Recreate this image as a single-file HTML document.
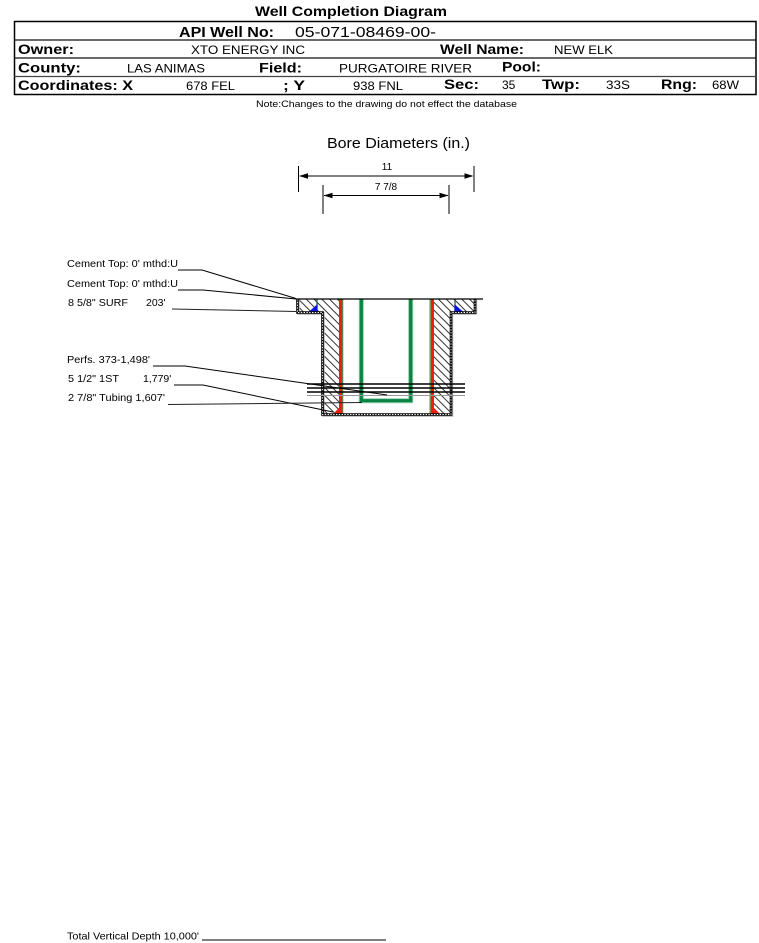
<!DOCTYPE html>
<html>
<head>
<meta charset="utf-8">
<style>
  html, body { margin: 0; padding: 0; background: #ffffff; }
  svg { display: block; }
  text { font-family: "Liberation Sans", Arial, sans-serif; fill: #000; }
  .b { font-weight: bold; font-size: 14px; }
  .v { font-size: 12px; }
  .lbl { font-size: 10.5px; }
</style>
</head>
<body>
<svg width="759" height="943" viewBox="0 0 759 943" xmlns="http://www.w3.org/2000/svg">
  <defs>
    <pattern id="hatch" patternUnits="userSpaceOnUse" width="5.5" height="5.5" patternTransform="rotate(45)">
      <line x1="0" y1="0.5" x2="5.5" y2="0.5" stroke="#000" stroke-width="0.8"/>
    </pattern>
  </defs>

  <!-- Title -->
  <text x="255" y="16" class="b" textLength="192" lengthAdjust="spacingAndGlyphs">Well Completion Diagram</text>

  <!-- Header table -->
  <rect x="14.5" y="21.5" width="741.5" height="73" fill="none" stroke="#000" stroke-width="1.5"/>
  <line x1="14.5" y1="40" x2="756" y2="40" stroke="#111" stroke-width="1.2"/>
  <line x1="14.5" y1="58" x2="756" y2="58" stroke="#111" stroke-width="1.2"/>
  <line x1="14.5" y1="76.5" x2="756" y2="76.5" stroke="#444" stroke-width="1.2"/>

  <text x="179" y="37" class="b" textLength="95" lengthAdjust="spacingAndGlyphs" style="font-size:14.5px">API Well No:</text>
  <text x="295" y="37" textLength="141" lengthAdjust="spacingAndGlyphs" style="font-size:14.5px">05-071-08469-00-</text>

  <text x="18" y="54" class="b" textLength="56" lengthAdjust="spacingAndGlyphs">Owner:</text>
  <text x="191" y="54" class="v" textLength="114" lengthAdjust="spacingAndGlyphs">XTO ENERGY INC</text>
  <text x="440" y="54" class="b" textLength="84" lengthAdjust="spacingAndGlyphs">Well Name:</text>
  <text x="554" y="54" class="v" textLength="59" lengthAdjust="spacingAndGlyphs">NEW ELK</text>

  <text x="18" y="72.5" class="b" textLength="63" lengthAdjust="spacingAndGlyphs">County:</text>
  <text x="127" y="72.5" class="v" textLength="78" lengthAdjust="spacingAndGlyphs">LAS ANIMAS</text>
  <text x="259" y="72.5" class="b" textLength="43" lengthAdjust="spacingAndGlyphs">Field:</text>
  <text x="339" y="72.5" class="v" textLength="133" lengthAdjust="spacingAndGlyphs">PURGATOIRE RIVER</text>
  <text x="502" y="71.5" class="b" textLength="39" lengthAdjust="spacingAndGlyphs">Pool:</text>

  <text x="18" y="90" class="b" textLength="115" lengthAdjust="spacingAndGlyphs">Coordinates: X</text>
  <text x="186" y="90" class="v" textLength="49" lengthAdjust="spacingAndGlyphs">678 FEL</text>
  <text x="283" y="90" class="b" textLength="22" lengthAdjust="spacingAndGlyphs">; Y</text>
  <text x="353" y="90" class="v" textLength="50" lengthAdjust="spacingAndGlyphs">938 FNL</text>
  <text x="444" y="89" class="b" textLength="35" lengthAdjust="spacingAndGlyphs">Sec:</text>
  <text x="502" y="89" class="v">35</text>
  <text x="542" y="89" class="b" textLength="38" lengthAdjust="spacingAndGlyphs">Twp:</text>
  <text x="606" y="89" class="v" textLength="24" lengthAdjust="spacingAndGlyphs">33S</text>
  <text x="661" y="89" class="b" textLength="36" lengthAdjust="spacingAndGlyphs">Rng:</text>
  <text x="712" y="89" class="v" textLength="27" lengthAdjust="spacingAndGlyphs">68W</text>

  <!-- Note -->
  <text x="256" y="107" style="font-size:9.5px" textLength="261" lengthAdjust="spacingAndGlyphs">Note:Changes to the drawing do not effect the database</text>

  <!-- Bore diameters -->
  <text x="327" y="148" style="font-size:15px" textLength="143" lengthAdjust="spacingAndGlyphs">Bore Diameters (in.)</text>
  <text x="387" y="170" style="font-size:10px" text-anchor="middle">11</text>
  <line x1="298.5" y1="166" x2="298.5" y2="192" stroke="#000" stroke-width="1"/>
  <line x1="474" y1="166" x2="474" y2="192" stroke="#000" stroke-width="1"/>
  <line x1="300" y1="176" x2="472" y2="176" stroke="#000" stroke-width="1"/>
  <polygon points="299,176 308,173.3 308,178.7" fill="#000"/>
  <polygon points="473.5,176 464.5,173.3 464.5,178.7" fill="#000"/>

  <text x="386" y="190" style="font-size:10px" text-anchor="middle">7 7/8</text>
  <line x1="323" y1="185" x2="323" y2="214" stroke="#000" stroke-width="1"/>
  <line x1="449" y1="185" x2="449" y2="214" stroke="#000" stroke-width="1"/>
  <line x1="324" y1="195.5" x2="448" y2="195.5" stroke="#000" stroke-width="1"/>
  <polygon points="323.5,195.5 332.5,192.8 332.5,198.2" fill="#000"/>
  <polygon points="448.5,195.5 439.5,192.8 439.5,198.2" fill="#000"/>

  <!-- Cement hatch -->
  <polygon points="297,299 339,299 339,414 322,414 322,312 297,312" fill="url(#hatch)"/>
  <polygon points="434,299 475,299 475,312 451,312 451,414 434,414" fill="url(#hatch)"/>

  <!-- Surface casing -->
  <line x1="317" y1="299" x2="317" y2="312" stroke="#1a5a3a" stroke-width="1.2"/>
  <line x1="455" y1="299" x2="455" y2="312" stroke="#1a5a3a" stroke-width="1.2"/>
  <polygon points="317.6,304 317.6,312 308.5,312" fill="#0a14e0"/>
  <polygon points="454.4,304 454.4,312 463.5,312" fill="#0a14e0"/>

  <!-- Production casing (red) -->
  <rect x="342" y="299" width="1.3" height="115" fill="#3aa05a"/>
  <rect x="339" y="299" width="3.2" height="115" fill="#ee1e0a"/>
  <polygon points="342.3,404.5 342.3,414 333,414" fill="#ee1e0a"/>
  <rect x="429.5" y="299" width="1.3" height="115" fill="#3aa05a"/>
  <rect x="430.8" y="299" width="3.2" height="115" fill="#ee1e0a"/>
  <polygon points="430.8,404.5 430.8,414 440,414" fill="#ee1e0a"/>

  <!-- Tubing -->
  <path d="M361.3,299 L361.3,400.7 L410.7,400.7 L410.7,299" fill="none" stroke="#8fd0a8" stroke-width="5"/>
  <path d="M361.3,299 L361.3,400.7 L410.7,400.7 L410.7,299" fill="none" stroke="#0a8445" stroke-width="3.2"/>

  <!-- Bore outline -->
  <path d="M297.5,299 L297.5,312.5 L322.5,312.5 L322.5,414.5 L451,414.5 L451,312.5 L475,312.5 L475,299" fill="none" stroke="#b0b0b0" stroke-width="2.6" transform="translate(0.9,0.9)"/>
  <path d="M297.5,299 L297.5,312.5 L322.5,312.5 L322.5,414.5 L451,414.5 L451,312.5 L475,312.5 L475,299" fill="none" stroke="#000" stroke-width="2.6"/>
  <path d="M297.5,299 L297.5,312.5 L322.5,312.5 L322.5,414.5 L451,414.5 L451,312.5 L475,312.5 L475,299" fill="none" stroke="#fff" stroke-width="0.9" stroke-dasharray="1.4 1.4"/>

  <!-- Ground line -->
  <line x1="296" y1="299" x2="483" y2="299" stroke="#000" stroke-width="1.2"/>

  <!-- Perforations -->
  <line x1="307" y1="384" x2="465" y2="384" stroke="#000" stroke-width="1.5"/>
  <line x1="307" y1="388" x2="465" y2="388" stroke="#000" stroke-width="1.5"/>
  <line x1="307" y1="392" x2="465" y2="392" stroke="#000" stroke-width="1.5"/>
  <line x1="307" y1="395.5" x2="465" y2="395.5" stroke="#999" stroke-width="1"/>

  <!-- Left labels -->
  <text x="67" y="267" class="lbl" textLength="111" lengthAdjust="spacingAndGlyphs">Cement Top: 0' mthd:U</text>
  <text x="67" y="287" class="lbl" textLength="111" lengthAdjust="spacingAndGlyphs">Cement Top: 0' mthd:U</text>
  <text x="68" y="306" class="lbl" textLength="60" lengthAdjust="spacingAndGlyphs">8 5/8" SURF</text>
  <text x="146" y="306" class="lbl">203'</text>
  <text x="67" y="363" class="lbl" textLength="83" lengthAdjust="spacingAndGlyphs">Perfs. 373-1,498'</text>
  <text x="68" y="382" class="lbl" textLength="51" lengthAdjust="spacingAndGlyphs">5 1/2" 1ST</text>
  <text x="143" y="382" class="lbl">1,779'</text>
  <text x="68" y="401" class="lbl" textLength="97" lengthAdjust="spacingAndGlyphs">2 7/8" Tubing 1,607'</text>

  <!-- Leader lines -->
  <polyline points="178,270 202,270 296,298.5" fill="none" stroke="#000" stroke-width="1"/>
  <polyline points="178,290 203,290 296,299" fill="none" stroke="#000" stroke-width="1"/>
  <polyline points="172,309 296,311.5" fill="none" stroke="#222" stroke-width="1"/>
  <polyline points="153,366 185,366 387,395" fill="none" stroke="#000" stroke-width="1"/>
  <polyline points="174,385 203,385 333,412" fill="none" stroke="#000" stroke-width="1"/>
  <polyline points="168,404.5 362,402.5" fill="none" stroke="#222" stroke-width="1"/>

  <!-- Total depth -->
  <text x="67" y="939.5" class="lbl" textLength="132" lengthAdjust="spacingAndGlyphs">Total Vertical Depth 10,000'</text>
  <line x1="202" y1="940" x2="386" y2="940" stroke="#000" stroke-width="1"/>
</svg>
</body>
</html>
